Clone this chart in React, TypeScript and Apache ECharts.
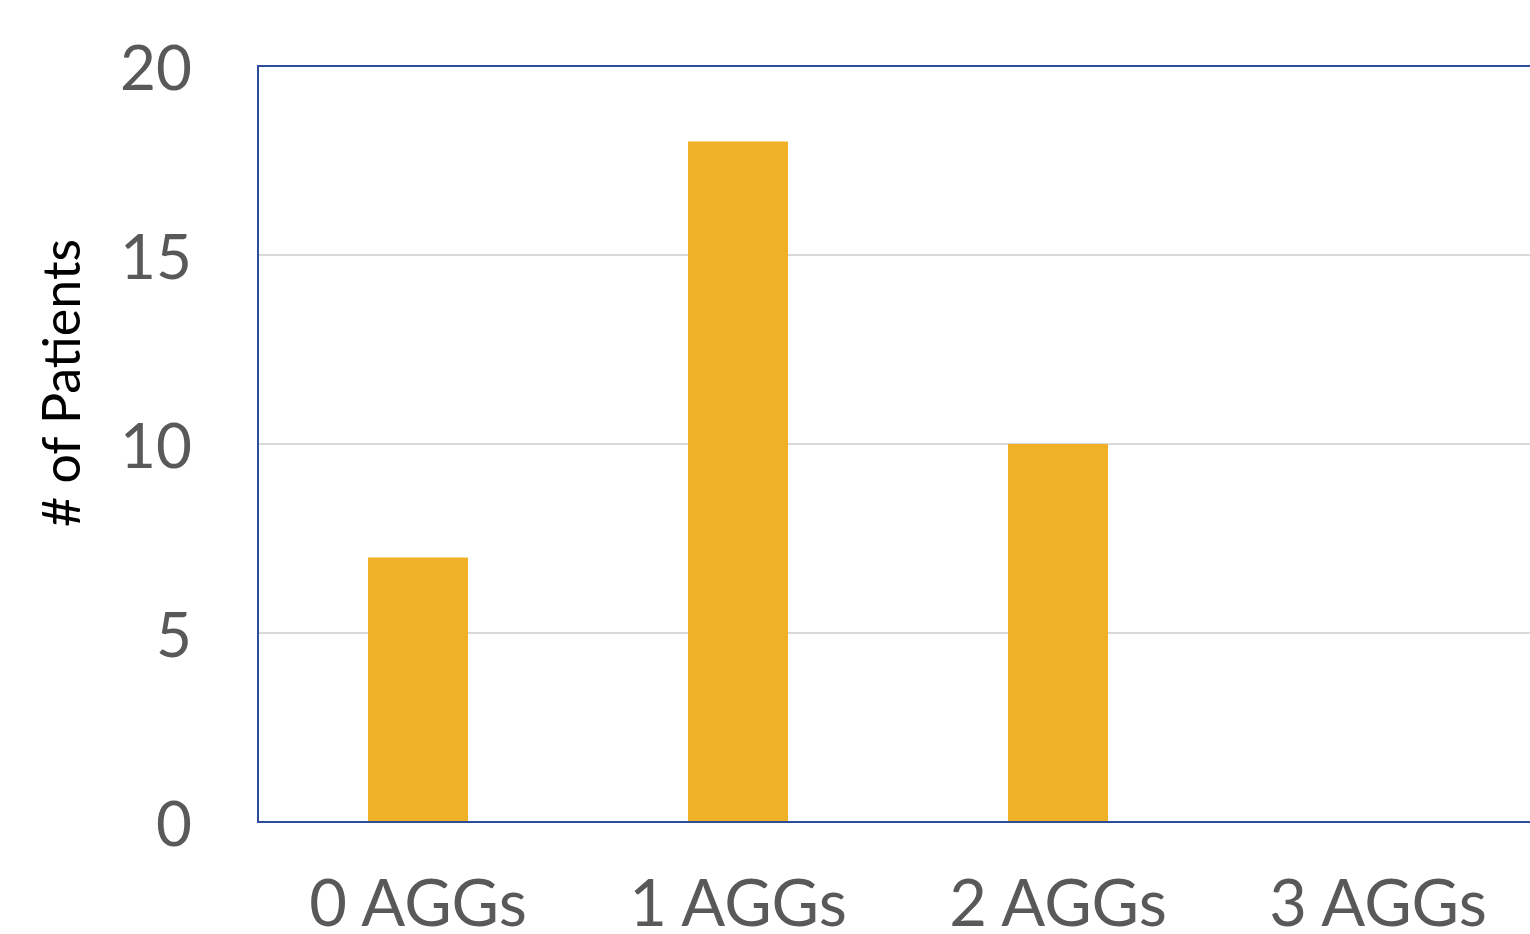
import React, { useEffect, useRef } from "react";
import * as echarts from "echarts";

const categories = ["0 AGGs", "1 AGGs", "2 AGGs", "3 AGGs"];
const patients = [7, 18, 10, 0];
const yTicks = { min: 0, max: 20, interval: 5 };
const yTitle = "# of Patients";

const FONT = "Lato, 'Noto Sans', sans-serif";

export default function App() {
  const ref = useRef<HTMLDivElement>(null);

  useEffect(() => {
    const chart = echarts.init(ref.current!, null, { renderer: "svg" });
    chart.setOption({
      animation: false,
      backgroundColor: "#ffffff",
      grid: {
        left: 258,
        top: 66,
        width: 1280,
        bottom: 112,
        show: true,
        borderColor: "#2E4D9A",
        borderWidth: 2,
        backgroundColor: "transparent",
        z: 3,
      },
      graphic: [
        {
          type: "text",
          x: 60,
          y: 383,
          rotation: Math.PI / 2,
          style: {
            text: yTitle,
            fill: "#000000",
            font: `52px ${FONT}`,
            align: "center",
            verticalAlign: "middle",
          },
        },
      ],
      xAxis: {
        type: "category",
        data: categories,
        axisLine: { show: false },
        axisTick: { show: false },
        axisLabel: {
          color: "#595959",
          fontFamily: FONT,
          fontSize: 65,
          lineHeight: 40,
          margin: 59,
        },
      },
      yAxis: {
        type: "value",
        min: yTicks.min,
        max: yTicks.max,
        interval: yTicks.interval,
        axisLine: { show: false },
        axisTick: { show: false },
        splitLine: {
          showMinLine: false,
          showMaxLine: false,
          lineStyle: { color: "#D9D9D9", width: 2 },
        },
        axisLabel: {
          color: "#595959",
          fontFamily: FONT,
          fontSize: 62,
          margin: 66,
        },
      },
      series: [
        {
          type: "bar",
          data: patients,
          barWidth: 100,
          itemStyle: { color: "#EFB125" },
        },
      ],
    });
    return () => chart.dispose();
  }, []);

  return (
    <div style={{ position: "fixed", left: 0, top: 0, width: 1530, height: 934, overflow: "hidden", background: "#fff" }}>
      <div ref={ref} style={{ width: 1560, height: 934 }} />
    </div>
  );
}
